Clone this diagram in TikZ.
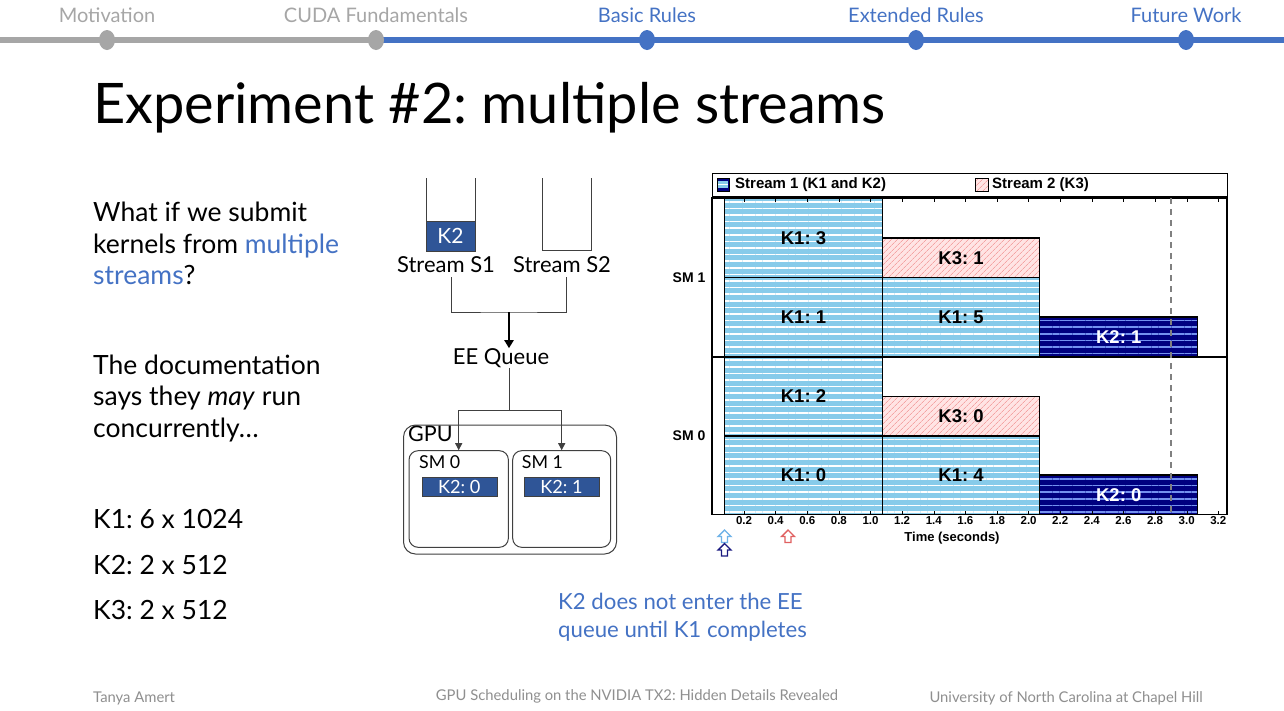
\documentclass[tikz,border=0pt]{standalone}
\usepackage{fontspec}
\setmainfont{Lato}
\newfontfamily\chartfont{Liberation Sans}
\usepackage{tikz}
\usetikzlibrary{arrows.meta,backgrounds,calc,patterns,patterns.meta,positioning}
\definecolor{navblue}{HTML}{4472C4}
\definecolor{navgray}{HTML}{A6A6A6}
\definecolor{kblue}{HTML}{2F5597}
\definecolor{skyfill}{HTML}{87CBEA}
\definecolor{navyfill}{HTML}{000080}
\definecolor{navystripe}{HTML}{7391F0}
\definecolor{pinkfill}{HTML}{FFE4E4}
\definecolor{pinkhatch}{HTML}{F4A4A4}
\definecolor{footgray}{HTML}{8F8F8F}
\definecolor{linegray}{HTML}{404040}
\definecolor{arrowsky}{HTML}{6FB3E8}
\definecolor{arrownavy}{HTML}{1A1A80}
\definecolor{arrowred}{HTML}{E06060}

\begin{document}
\frenchspacing
\begin{tikzpicture}[x=1pt,y=-1pt,
  navlbl/.style={font=\fontsize{20}{24}\selectfont,inner sep=0pt},
  bodytxt/.style={font=\fontsize{26.5}{30}\selectfont,anchor=base west,inner sep=0pt},
  notetxt/.style={font=\fontsize{22.2}{26}\selectfont,anchor=base west,inner sep=0pt,text=navblue},
  foottxt/.style={font=\fontsize{14.8}{17}\selectfont,text=footgray,inner sep=0pt},
  streamlbl/.style={font=\fontsize{22}{26}\selectfont,inner sep=0pt},
  kbox/.style={draw=linegray,fill=kblue,text=white,inner sep=0pt},
  smbox/.style={draw=linegray,line width=1pt,rounded corners=9pt,inner sep=0pt},
  wire/.style={draw=linegray,line width=1pt},
  skybar/.style={preaction={fill=skyfill},pattern={Lines[angle=0,distance=6.6pt,line width=1.6pt]},pattern color=white,draw=black,line width=1.2pt},
  navybar/.style={preaction={fill=navyfill},pattern={Lines[angle=0,distance=6.6pt,line width=1.6pt]},pattern color=navystripe,draw=black,line width=1.2pt},
  pinkbar/.style={preaction={fill=pinkfill},pattern={Lines[angle=45,distance=4pt,line width=0.7pt]},pattern color=pinkhatch,draw=black,line width=1.2pt},
  barlbl/.style={font=\chartfont\bfseries\fontsize{18.5}{20}\selectfont,inner sep=0pt},
  ticklbl/.style={font=\chartfont\bfseries\fontsize{11.5}{13}\selectfont,inner sep=0pt},
  axislbl/.style={font=\chartfont\bfseries\fontsize{13}{15}\selectfont,inner sep=0pt},
  hollowup/.style={line width=1.4pt,fill=white,line join=miter}
]
\useasboundingbox (0,0) rectangle (1284,710);
\fill[white] (0,0) rectangle (1284,710);

% progress bar
\draw[navgray,line width=6pt] (0,40) -- (376,40);
\draw[navblue,line width=6pt] (376,40) -- (1284,40);
\fill[navgray] (107,40) ellipse [x radius=8pt,y radius=10pt];
\fill[navgray] (376,40) ellipse [x radius=8pt,y radius=10pt];
\fill[navblue] (647,40) ellipse [x radius=8pt,y radius=10pt];
\fill[navblue] (916,40) ellipse [x radius=8pt,y radius=10pt];
\fill[navblue] (1186,40) ellipse [x radius=8pt,y radius=10pt];
\node[navlbl,text=navgray] (nav1) at (107,15) {Motivation};
\node[navlbl,text=navgray] (nav2) at (376,15) {CUDA Fundamentals};
\node[navlbl,text=navblue] (nav3) at (647,15) {Basic Rules};
\node[navlbl,text=navblue] (nav4) at (916,15) {Extended Rules};
\node[navlbl,text=navblue] (nav5) at (1186,15) {Future Work};

% title and text
\node[anchor=base west,inner sep=0pt,font=\fontsize{55.9}{64}\selectfont] (title) at (93,123) {Experiment \#2: multiple streams};
\node[bodytxt] (q1) at (93,221) {What if we submit};
\node[bodytxt] (q2) at (93,253) {kernels from \textcolor{navblue}{multiple}};
\node[bodytxt] (q3) at (93,284) {\textcolor{navblue}{streams}?};
\node[bodytxt] (d1) at (93,374) {The documentation};
\node[bodytxt] (d2) at (93,405.5) {says they \textit{may} run};
\node[bodytxt] (d3) at (93,437) {concurrently…};
\node[bodytxt] (kk1) at (93,528) {K1: 6 x 1024};
\node[bodytxt] (kk2) at (93,574) {K2: 2 x 512};
\node[bodytxt] (kk3) at (93,619) {K3: 2 x 512};
\node[notetxt] (n1) at (558,609) {K2 does not enter the EE};
\node[notetxt] (n2) at (558,637) {queue until K1 completes};

% footer
\node[foottxt,anchor=base west] (author) at (93,702) {Tanya Amert};
\node[foottxt,anchor=base] (talk) at (637,700) {GPU Scheduling on the NVIDIA TX2: Hidden Details Revealed};
\node[foottxt,anchor=base east] (uni) at (1203,702) {University of North Carolina at Chapel Hill};

% streams and GPU
\draw[wire] (426,178) -- (426,250.7) -- (475,250.7) -- (475,178);
\node[kbox,minimum width=49pt,minimum height=29.7pt,font=\fontsize{21}{24}\selectfont] (k2q) at (450.5,236) {K2};
\draw[wire] (542.7,178) -- (542.7,250) -- (591.7,250) -- (591.7,178);
\node[streamlbl] (s1) at (446,265) {Stream S1};
\node[streamlbl] (s2) at (562,265) {Stream S2};
\node[streamlbl] (eeq) at (501,358) {EE Queue};
\coordinate (join) at (509,312);
\coordinate (split) at (509,410);
\draw[wire] ([xshift=5pt,yshift=-4pt]s1.south) |- (join) -| ([xshift=4pt,yshift=-4pt]s2.south);
\draw[black,line width=2.5pt,-{Triangle[length=8pt,width=9pt]}] (join) -- (join |- eeq.north);
\node[smbox,rounded corners=12pt,minimum width=213pt,minimum height=129pt] (gpu) at (510,489.5) {};
\node[font=\fontsize{21.5}{24}\selectfont,anchor=base west,inner sep=0pt] (gpulbl) at (408,441.7) {GPU};
\node[smbox,fill=white,minimum width=99.3pt,minimum height=96.6pt] (sm0) at (458.7,499) {};
\node[smbox,fill=white,minimum width=98pt,minimum height=96.6pt] (sm1) at (561.7,499) {};
\node[font=\fontsize{17.8}{20}\selectfont,anchor=base west,inner sep=0pt] (sm0lbl) at (419,468) {SM 0};
\node[font=\fontsize{17.8}{20}\selectfont,anchor=base west,inner sep=0pt] (sm1lbl) at (521.7,468) {SM 1};
\node[kbox,minimum width=75pt,minimum height=18.7pt,font=\fontsize{18.2}{20}\selectfont] (k20) at (459.2,486.7) {K2: 0};
\node[kbox,minimum width=75pt,minimum height=18.7pt,font=\fontsize{18.2}{20}\selectfont] (k21) at (561.5,486.7) {K2: 1};
\draw[wire] (join |- eeq.south) -- (split);
\draw[wire,-{Triangle[length=7pt,width=7pt]}] (split) -| (sm0.north);
\draw[wire,-{Triangle[length=7pt,width=7pt]}] (split) -| (sm1.north);

% legend
\draw[line width=1pt] (712,173) rectangle (1227,196);
\draw[fill=navyfill,line width=0.8pt] (717,178) rectangle (729,191);
\fill[skyfill] (718,181) rectangle (728,188);
\draw[white,line width=1pt] (718,184.5) -- (728,184.5);
\node[axislbl,font=\chartfont\bfseries\fontsize{15}{16}\selectfont,anchor=west] (leg1) at (735,184.5) {Stream 1 (K1 and K2)};
\draw[pinkbar,line width=0.8pt] (975,178) rectangle (988,191);
\node[axislbl,font=\chartfont\bfseries\fontsize{15}{16}\selectfont,anchor=west] (leg2) at (992,184.5) {Stream 2 (K3)};

% chart
\draw[line width=1.2pt] (712,198) rectangle (1227,514.5);
\pgfmathsetmacro{\Tx}{712.4}
\pgfmathsetmacro{\Ts}{158.1}
\begin{scope}[shift={(\Tx,0)},x=\Ts pt]
\draw[skybar] (0.077,198) rectangle (1.075,277.6) node[midway,barlbl] (k13) {K1: 3};
\draw[skybar] (0.077,277.6) rectangle (1.075,357) node[midway,barlbl] (k11) {K1: 1};
\draw[skybar] (0.077,357) rectangle (1.075,436) node[midway,barlbl] (k12) {K1: 2};
\draw[skybar] (0.077,436) rectangle (1.075,514.5) node[midway,barlbl] (k10) {K1: 0};
\draw[pinkbar] (1.075,238) rectangle (2.07,277.6) node[midway,barlbl] (k31) {K3: 1};
\draw[skybar] (1.075,277.6) rectangle (2.07,357) node[midway,barlbl] (k15) {K1: 5};
\draw[pinkbar] (1.075,396.7) rectangle (2.07,436) node[midway,barlbl] (k30) {K3: 0};
\draw[skybar] (1.075,436) rectangle (2.07,514.5) node[midway,barlbl] (k14) {K1: 4};
\draw[navybar] (2.07,317) rectangle (3.07,357) node[midway,barlbl,text=white] (k2b) {K2: 1};
\draw[navybar] (2.07,475) rectangle (3.07,514.5) node[midway,barlbl,text=white] (k2a) {K2: 0};
\draw[line width=1.2pt] (-0.001,357) -- (3.255,357);
\draw[gray,line width=1.5pt,dash pattern=on 6pt off 5pt] (2.9,198) -- (2.9,514.5);
% ticks
\draw (0.2,198) -- ++(0,4) (0.2,514.5) -- ++(0,-4) node[ticklbl,below=6pt] (t02) {0.2};
\draw (0.4,198) -- ++(0,4) (0.4,514.5) -- ++(0,-4) node[ticklbl,below=6pt] (t04) {0.4};
\draw (0.6,198) -- ++(0,4) (0.6,514.5) -- ++(0,-4) node[ticklbl,below=6pt] (t06) {0.6};
\draw (0.8,198) -- ++(0,4) (0.8,514.5) -- ++(0,-4) node[ticklbl,below=6pt] (t08) {0.8};
\draw (1.0,198) -- ++(0,4) (1.0,514.5) -- ++(0,-4) node[ticklbl,below=6pt] (t10) {1.0};
\draw (1.2,198) -- ++(0,4) (1.2,514.5) -- ++(0,-4) node[ticklbl,below=6pt] (t12) {1.2};
\draw (1.4,198) -- ++(0,4) (1.4,514.5) -- ++(0,-4) node[ticklbl,below=6pt] (t14) {1.4};
\draw (1.6,198) -- ++(0,4) (1.6,514.5) -- ++(0,-4) node[ticklbl,below=6pt] (t16) {1.6};
\draw (1.8,198) -- ++(0,4) (1.8,514.5) -- ++(0,-4) node[ticklbl,below=6pt] (t18) {1.8};
\draw (2.0,198) -- ++(0,4) (2.0,514.5) -- ++(0,-4) node[ticklbl,below=6pt] (t20) {2.0};
\draw (2.2,198) -- ++(0,4) (2.2,514.5) -- ++(0,-4) node[ticklbl,below=6pt] (t22) {2.2};
\draw (2.4,198) -- ++(0,4) (2.4,514.5) -- ++(0,-4) node[ticklbl,below=6pt] (t24) {2.4};
\draw (2.6,198) -- ++(0,4) (2.6,514.5) -- ++(0,-4) node[ticklbl,below=6pt] (t26) {2.6};
\draw (2.8,198) -- ++(0,4) (2.8,514.5) -- ++(0,-4) node[ticklbl,below=6pt] (t28) {2.8};
\draw (3.0,198) -- ++(0,4) (3.0,514.5) -- ++(0,-4) node[ticklbl,below=6pt] (t30) {3.0};
\draw (3.2,198) -- ++(0,4) (3.2,514.5) -- ++(0,-4) node[ticklbl,below=6pt] (t32) {3.2};
\end{scope}
\node[axislbl] (xlbl) at (952,538) {Time (seconds)};
\node[axislbl,font=\chartfont\bfseries\fontsize{14}{16}\selectfont] (ysm1) at (689,278) {SM 1};
\node[axislbl,font=\chartfont\bfseries\fontsize{14}{16}\selectfont] (ysm0) at (689,436) {SM 0};

% release arrows
\draw[hollowup,draw=arrowsky] (724.5,530) -- ++(6.5,6.5) -- ++(-3.5,0) -- ++(0,6) -- ++(-6,0) -- ++(0,-6) -- ++(-3.5,0) -- cycle;
\draw[hollowup,draw=arrownavy] (724.5,543.5) -- ++(6.5,6.5) -- ++(-3.5,0) -- ++(0,6) -- ++(-6,0) -- ++(0,-6) -- ++(-3.5,0) -- cycle;
\draw[hollowup,draw=arrowred] (788,530) -- ++(6.5,6.5) -- ++(-3.5,0) -- ++(0,6) -- ++(-6,0) -- ++(0,-6) -- ++(-3.5,0) -- cycle;
\end{tikzpicture}
\end{document}
